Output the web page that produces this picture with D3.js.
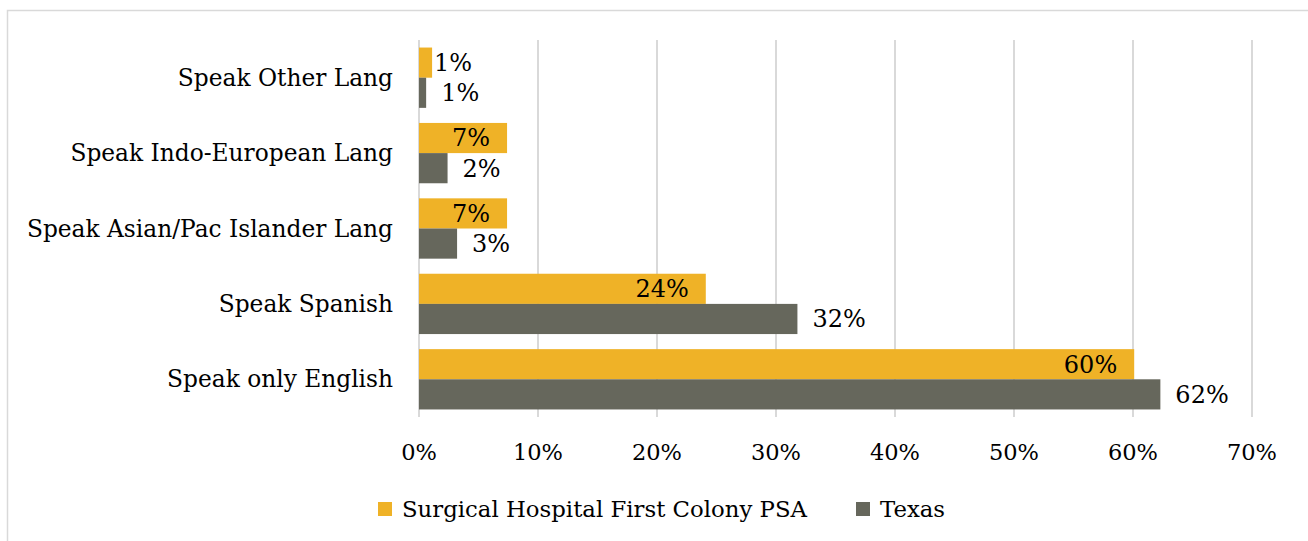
<!DOCTYPE html>
<html>
<head>
<meta charset="utf-8">
<script src="https://cdn.jsdelivr.net/npm/d3@7"></script>
<style>
  body { margin: 0; background: #fff; }
  text { font-family: "DejaVu Serif", serif; fill: #000; }
</style>
</head>
<body>
<div class="chart"></div>
<script>
var width = 1308;
var height = 541;

var categories = ["Speak Other Lang", "Speak Indo-European Lang", "Speak Asian/Pac Islander Lang", "Speak Spanish", "Speak only English"];
var seriesNames = ["Surgical Hospital First Colony PSA", "Texas"];
var hospital = [1.1, 7.4, 7.4, 24.1, 60.1];
var texas = [0.6, 2.4, 3.2, 31.8, 62.3];
var hospitalLabels = ["1%", "7%", "7%", "24%", "60%"];
var texasLabels = ["1%", "2%", "3%", "32%", "62%"];
var ticks = [0, 10, 20, 30, 40, 50, 60, 70];
var colors = ["#EFB227", "#66675C"];

var svg = d3.select(".chart").append("svg")
  .attr("width", width)
  .attr("height", height);

// chart frame (only top/left edges visible)
svg.append("rect")
  .attr("x", 7.5).attr("y", 10.5)
  .attr("width", 1400).attr("height", 600)
  .attr("fill", "none")
  .attr("stroke", "#D9D9D9")
  .attr("stroke-width", 1.5);

var x = d3.scaleLinear().domain([0, 70]).range([419, 1252]);
var y = d3.scaleBand().domain(categories).range([40, 417]).paddingInner(0.2).paddingOuter(0.1);
var sub = d3.scaleBand().domain([0, 1]).range([0, y.bandwidth()]);

// gridlines
svg.selectAll(".grid")
  .data(ticks)
  .enter().append("line")
    .attr("x1", d => x(d)).attr("x2", d => x(d))
    .attr("y1", 40).attr("y2", 417)
    .attr("stroke", "#D9D9D9")
    .attr("stroke-width", 2);

// tick labels
svg.selectAll(".tick-label")
  .data(ticks)
  .enter().append("text")
    .attr("x", d => x(d))
    .attr("y", 452)
    .attr("dy", "0.35em")
    .attr("text-anchor", "middle")
    .style("font-size", "22.5px")
    .text(d => d + "%");

// category labels
svg.selectAll(".cat")
  .data(categories)
  .enter().append("text")
    .attr("x", 393)
    .attr("y", d => y(d) + y.bandwidth() / 2)
    .attr("dy", "0.35em")
    .attr("text-anchor", "end")
    .style("font-size", "23.3px")
    .text(d => d);

var rows = categories.map(function(c, i) {
  return {cat: c, vals: [hospital[i], texas[i]], labels: [hospitalLabels[i], texasLabels[i]]};
});

var group = svg.selectAll(".row")
  .data(rows)
  .enter().append("g")
    .attr("transform", d => "translate(0," + y(d.cat) + ")");

group.selectAll("rect")
  .data(d => d.vals.map((v, j) => ({v: v, j: j, label: d.labels[j]})))
  .enter().append("rect")
    .attr("x", x(0))
    .attr("y", d => sub(d.j))
    .attr("width", d => x(d.v) - x(0))
    .attr("height", sub.bandwidth())
    .attr("fill", d => colors[d.j]);

group.selectAll(".val")
  .data(d => d.vals.map((v, j) => ({v: v, j: j, label: d.labels[j]})))
  .enter().append("text")
    .attr("y", d => sub(d.j) + sub.bandwidth() / 2)
    .attr("dy", "0.35em")
    .style("font-size", "24px")
    .each(function(d) {
      var t = d3.select(this).text(d.label);
      var end = x(d.v);
      if (d.j === 0 && end - x(0) > 60) {
        t.attr("x", end - 17).attr("text-anchor", "end");
      } else if (d.j === 0) {
        t.attr("x", end + 2).attr("text-anchor", "start");
      } else {
        t.attr("x", end + 15).attr("text-anchor", "start");
      }
    });

// legend
var legend = svg.append("g").attr("transform", "translate(0,509)");
var legendX = [378, 856];
seriesNames.forEach(function(name, i) {
  legend.append("rect")
    .attr("x", legendX[i]).attr("y", -7)
    .attr("width", 14).attr("height", 14)
    .attr("fill", colors[i]);
  legend.append("text")
    .attr("x", legendX[i] + 24)
    .attr("y", 0)
    .attr("dy", "0.35em")
    .style("font-size", "22.8px")
    .text(name);
});
</script>
</body>
</html>
